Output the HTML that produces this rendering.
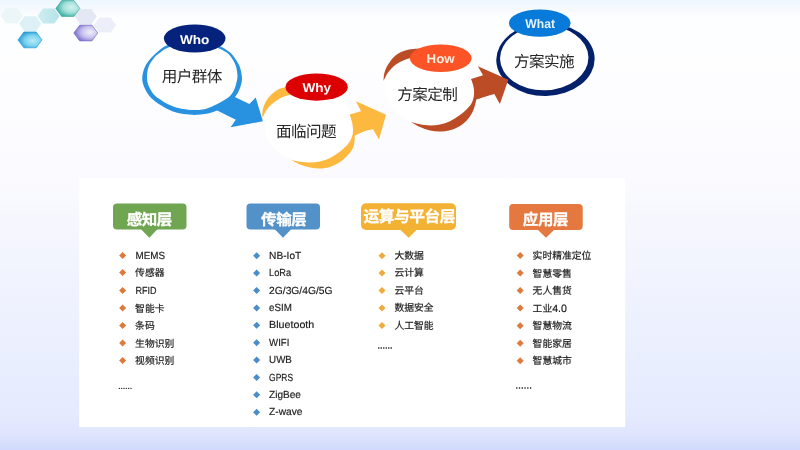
<!DOCTYPE html>
<html lang="zh-CN">
<head>
<meta charset="utf-8">
<title>Who Why How What</title>
<style>
html,body{margin:0;padding:0;width:800px;height:450px;overflow:hidden;background:#f4f6fe;}
svg{display:block;position:absolute;left:0;top:0;will-change:transform;}
text{font-family:"Liberation Sans","Noto Sans CJK SC",sans-serif;text-rendering:geometricPrecision;}
.tag{font-weight:bold;font-size:12.6px;fill:#fff;text-anchor:middle;}
.ctr{font-size:15.6px;fill:#262626;text-anchor:middle;font-weight:400;letter-spacing:-0.6px;}
.bh{font-weight:bold;font-size:15.5px;fill:#fff;text-anchor:middle;letter-spacing:-0.4px;stroke:#fff;stroke-width:0.3px;}
.li{font-size:9.8px;fill:#1c1c1c;stroke:#1c1c1c;stroke-width:0.18px;}
.li .en{font-size:10.3px;}
</style>
</head>
<body>
<svg width="800" height="450" viewBox="0 0 800 450">
<defs>
<linearGradient id="bg" x1="0" y1="0" x2="0" y2="1">
<stop offset="0" stop-color="#eef6fe"/>
<stop offset="0.04" stop-color="#fdfeff"/>
<stop offset="0.14" stop-color="#fefeff"/>
<stop offset="0.27" stop-color="#fcfcff"/>
<stop offset="0.38" stop-color="#fbfbff"/>
<stop offset="0.49" stop-color="#f6f7fe"/>
<stop offset="0.71" stop-color="#edf1fe"/>
<stop offset="0.92" stop-color="#e5eafe"/>
<stop offset="0.965" stop-color="#dfe5fd"/>
<stop offset="1" stop-color="#d0dafc"/>
</linearGradient>
<radialGradient id="hxTeal" cx="0.66" cy="0.42" r="0.62">
<stop offset="0" stop-color="#d4f2ef"/><stop offset="0.55" stop-color="#a4e0da"/><stop offset="1" stop-color="#45b3a8"/>
</radialGradient>
<radialGradient id="hxBlue" cx="0.62" cy="0.55" r="0.62">
<stop offset="0" stop-color="#b8eaf7"/><stop offset="0.55" stop-color="#7ad2ee"/><stop offset="1" stop-color="#2498d4"/>
</radialGradient>
<radialGradient id="hxPurple" cx="0.68" cy="0.45" r="0.66">
<stop offset="0" stop-color="#f0f0fc"/><stop offset="0.55" stop-color="#c4c0ee"/><stop offset="1" stop-color="#7a6fca"/>
</radialGradient>
<linearGradient id="hx3" x1="0" y1="0" x2="1" y2="0">
<stop offset="0" stop-color="#d0edf1"/><stop offset="1" stop-color="#b4e3e8"/>
</linearGradient>
<path id="hexS" d="M-11.1,0 L-5.6,-7.6 L5.6,-7.6 L11.1,0 L5.6,7.6 L-5.6,7.6 Z"/>
<path id="hex" d="M-12,0 L-6.1,-7.9 L6.1,-7.9 L12,0 L6.1,7.9 L-6.1,7.9 Z"/>
</defs>
<rect x="0" y="0" width="800" height="450" fill="url(#bg)"/>

<!-- hexagons -->
<g id="hexes">
<use href="#hexS" x="11.75" y="15.7" fill="#ecf5f8"/>
<use href="#hexS" x="30.25" y="23.8" fill="#dcf0f5"/>
<use href="#hexS" x="48.6" y="16" fill="url(#hx3)"/>
<use href="#hexS" x="85.75" y="16.5" fill="#e4e7f4"/>
<use href="#hexS" x="105" y="25" fill="#eceffa"/>
<use href="#hex" x="67.8" y="8.5" fill="url(#hxTeal)" stroke="#3ea79c" stroke-width="0.7"/>
<use href="#hex" x="30" y="39.9" fill="url(#hxBlue)" stroke="#2a9ed4" stroke-width="0.7"/>
<use href="#hex" x="85.8" y="33" fill="url(#hxPurple)" stroke="#7d73cb" stroke-width="0.7"/>
</g>

<!-- WHO -->
<g id="who">
<path d="M166.40,45.50 C162.98,47.02 161.02,48.95 158.50,51.00 C155.98,53.05 153.55,55.18 151.30,57.80 C149.05,60.42 146.50,63.50 145.00,66.70 C143.50,69.90 142.53,73.87 142.30,77.00 C142.07,80.13 142.48,82.42 143.60,85.50 C144.72,88.58 146.60,92.48 149.00,95.50 C151.40,98.52 154.83,101.32 158.00,103.60 C161.17,105.88 164.67,107.63 168.00,109.20 C171.33,110.77 174.50,112.10 178.00,113.00 C181.50,113.90 185.67,114.30 189.00,114.60 C192.33,114.90 194.83,114.98 198.00,114.80 C201.17,114.62 204.83,114.23 208.00,113.50 C211.17,112.77 214.00,111.73 217.00,110.40 C220.00,109.07 223.33,107.32 226.00,105.50 C228.67,103.68 230.92,101.83 233.00,99.50 C235.08,97.17 237.05,94.42 238.50,91.50 C239.95,88.58 241.20,84.92 241.70,82.00 C242.20,79.08 241.95,76.83 241.50,74.00 C241.05,71.17 240.50,68.17 239.00,65.00 C237.50,61.83 234.58,57.50 232.50,55.00 C230.42,52.50 228.50,51.42 226.50,50.00 C224.50,48.58 223.75,47.83 220.50,46.50 C217.25,45.17 211.58,42.98 207.00,42.00 C202.42,41.02 197.67,40.62 193.00,40.60 C188.33,40.58 183.43,41.08 179.00,41.90 C174.57,42.72 169.82,43.98 166.40,45.50 Z" fill="#2892e0"/>
<path d="M167.80,47.80 C164.55,49.13 162.77,50.63 160.50,52.30 C158.23,53.97 156.18,55.40 154.20,57.80 C152.22,60.20 149.80,63.50 148.60,66.70 C147.40,69.90 147.02,73.87 147.00,77.00 C146.98,80.13 147.33,82.53 148.50,85.50 C149.67,88.47 151.92,92.38 154.00,94.80 C156.08,97.22 158.67,98.43 161.00,100.00 C163.33,101.57 165.17,102.85 168.00,104.20 C170.83,105.55 174.67,107.18 178.00,108.10 C181.33,109.02 184.83,109.38 188.00,109.70 C191.17,110.02 193.83,110.22 197.00,110.00 C200.17,109.78 203.72,109.37 207.00,108.40 C210.28,107.43 213.87,105.57 216.70,104.20 C219.53,102.83 221.78,101.57 224.00,100.20 C226.22,98.83 228.28,97.78 230.00,96.00 C231.72,94.22 233.17,92.00 234.30,89.50 C235.43,87.00 236.28,83.42 236.80,81.00 C237.32,78.58 237.62,77.67 237.40,75.00 C237.18,72.33 236.82,68.33 235.50,65.00 C234.18,61.67 231.42,57.33 229.50,55.00 C227.58,52.67 225.75,52.08 224.00,51.00 C222.25,49.92 222.00,49.62 219.00,48.50 C216.00,47.38 210.33,45.17 206.00,44.30 C201.67,43.43 197.33,43.30 193.00,43.30 C188.67,43.30 184.20,43.55 180.00,44.30 C175.80,45.05 171.05,46.47 167.80,47.80 Z" fill="#ffffff"/>
<polygon points="233.6,95.6 235.3,97.2 249.4,103.9 255.7,97.6 262.9,121.3 230.6,127.2 235.8,119.8 216.7,110.2 214.5,108.5" fill="#2892e0"/>
<ellipse cx="194.7" cy="38.5" rx="30.8" ry="14.1" fill="#05237c"/>
<text class="tag" x="194.7" y="43.9" textLength="29.4" lengthAdjust="spacingAndGlyphs">Who</text>
<text class="ctr" x="191.85" y="81.8">用户群体</text>
</g>

<!-- WHY -->
<g id="why">
<ellipse cx="309" cy="125" rx="44.5" ry="37.5" fill="#ffffff"/>
<path d="M262.20,117.60 C262.28,116.32 262.23,112.28 262.70,109.90 C263.17,107.52 263.92,105.48 265.00,103.30 C266.08,101.12 267.57,98.73 269.20,96.80 C270.83,94.87 272.93,93.07 274.80,91.70 C276.67,90.33 278.53,89.38 280.40,88.60 C282.27,87.82 284.07,87.43 286.00,87.00 C287.93,86.57 291.00,86.17 292.00,86.00 L296.00,94.00 C294.95,94.15 291.53,94.52 289.70,94.90 C287.87,95.28 286.70,95.67 285.00,96.30 C283.30,96.93 281.35,97.68 279.50,98.70 C277.65,99.72 275.62,101.08 273.90,102.40 C272.18,103.72 270.60,105.05 269.20,106.60 C267.80,108.15 266.52,110.05 265.50,111.70 C264.48,113.35 263.65,115.52 263.10,116.50 C262.55,117.48 262.35,117.42 262.20,117.60 Z" fill="#fdb840"/>
<path d="M291.00,159.80 C292.50,160.58 296.83,163.22 300.00,164.50 C303.17,165.78 306.67,166.83 310.00,167.50 C313.33,168.17 316.67,168.58 320.00,168.50 C323.33,168.42 326.67,168.08 330.00,167.00 C333.33,165.92 337.00,164.00 340.00,162.00 C343.00,160.00 345.88,157.25 348.00,155.00 C350.12,152.75 351.62,150.67 352.70,148.50 C353.78,146.33 354.17,144.08 354.50,142.00 C354.83,139.92 354.67,137.00 354.70,136.00 C355.03,135.78 355.03,135.48 356.70,134.70 C358.37,133.92 361.98,132.20 364.70,131.30 C367.42,130.40 371.62,129.63 373.00,129.30 L379.00,139.40 L386.00,114.70 L356.00,101.30 L361.00,111.30 L349.70,114.40 C350.08,115.67 351.45,119.40 352.00,122.00 C352.55,124.60 353.00,127.55 353.00,130.00 C353.00,132.45 352.83,134.37 352.00,136.70 C351.17,139.03 350.00,141.53 348.00,144.00 C346.00,146.47 343.00,149.17 340.00,151.50 C337.00,153.83 333.33,156.33 330.00,158.00 C326.67,159.67 323.33,160.75 320.00,161.50 C316.67,162.25 313.33,162.45 310.00,162.50 C306.67,162.55 303.17,162.25 300.00,161.80 C296.83,161.35 292.50,160.13 291.00,159.80 Z" fill="#fdb840"/>
<ellipse cx="316.65" cy="87.05" rx="31.2" ry="13.6" fill="#dc0002"/>
<text class="tag" x="316.7" y="91.9" textLength="28.6" lengthAdjust="spacingAndGlyphs">Why</text>
<text class="ctr" x="306.1" y="137.2">面临问题</text>
</g>

<!-- WHAT ring (under HOW arrow tip) -->
<g id="what-ring">
<g transform="rotate(-1.2 545 59)"><ellipse cx="545.45" cy="59.45" rx="49.2" ry="36.6" fill="#03206a"/>
<ellipse cx="544.25" cy="57.95" rx="44.2" ry="32.3" fill="#ffffff"/></g>
</g>

<!-- HOW -->
<g id="how">
<ellipse cx="430" cy="88" rx="44.5" ry="37.5" fill="#ffffff"/>
<path d="M383.50,80.90 C383.62,79.72 383.70,76.07 384.20,73.80 C384.70,71.53 385.48,69.40 386.50,67.30 C387.52,65.20 388.90,63.07 390.30,61.20 C391.70,59.33 393.20,57.58 394.90,56.10 C396.60,54.62 398.48,53.32 400.50,52.30 C402.52,51.28 404.82,50.53 407.00,50.00 C409.18,49.47 411.43,49.33 413.60,49.10 C415.77,48.87 418.93,48.68 420.00,48.60 L420.00,57.00 C418.47,57.15 412.97,57.58 410.80,57.90 C408.63,58.22 408.55,58.35 407.00,58.90 C405.45,59.45 403.35,60.27 401.50,61.20 C399.65,62.13 397.62,63.25 395.90,64.50 C394.18,65.75 392.60,67.23 391.20,68.70 C389.80,70.17 388.58,71.65 387.50,73.30 C386.42,74.95 385.37,77.33 384.70,78.60 C384.03,79.87 383.70,80.52 383.50,80.90 Z" fill="#bb4c26"/>
<path d="M411.00,122.00 C412.50,122.83 416.83,125.58 420.00,127.00 C423.17,128.42 426.67,129.75 430.00,130.50 C433.33,131.25 436.67,131.55 440.00,131.50 C443.33,131.45 446.67,131.12 450.00,130.20 C453.33,129.28 457.00,127.87 460.00,126.00 C463.00,124.13 465.83,121.50 468.00,119.00 C470.17,116.50 471.78,113.50 473.00,111.00 C474.22,108.50 474.75,105.88 475.30,104.00 C475.85,102.12 476.13,100.42 476.30,99.70 C477.87,99.18 482.70,97.55 485.70,96.60 C488.70,95.65 492.87,94.43 494.30,94.00 L499.90,104.00 L508.30,79.70 L477.90,66.30 L483.00,75.30 L471.00,79.00 C471.40,80.22 472.90,83.63 473.40,86.30 C473.90,88.97 474.28,92.22 474.00,95.00 C473.72,97.78 472.87,100.67 471.70,103.00 C470.53,105.33 468.95,107.00 467.00,109.00 C465.05,111.00 462.83,112.97 460.00,115.00 C457.17,117.03 453.33,119.62 450.00,121.20 C446.67,122.78 443.33,123.78 440.00,124.50 C436.67,125.22 433.33,125.53 430.00,125.50 C426.67,125.47 423.17,124.88 420.00,124.30 C416.83,123.72 412.50,122.38 411.00,122.00 Z" fill="#bb4c26"/>
<ellipse cx="440.75" cy="58.3" rx="30.85" ry="13.75" fill="#fc5426"/>
<text class="tag" x="440.6" y="62.9" style="fill:#fdeee0" textLength="28" lengthAdjust="spacingAndGlyphs">How</text>
<text class="ctr" x="427.2" y="100.2">方案定制</text>
</g>

<!-- WHAT -->
<g id="what">
<ellipse cx="539.75" cy="23.1" rx="30.85" ry="13.7" fill="#087ada"/>
<text class="tag" x="540.15" y="28" style="fill:#e6f3fd" textLength="29.7" lengthAdjust="spacingAndGlyphs">What</text>
<text class="ctr" x="544.0" y="67.0">方案实施</text>
</g>

<!-- PANEL -->
<rect x="79.2" y="178.3" width="546" height="248.8" fill="#ffffff"/>

<!-- badges -->
<g id="b1" fill="#70a652">
<rect x="113" y="203.5" width="73.5" height="25.9" rx="4" ry="4"/>
<polygon points="140.8,229 157.7,229 149.3,237.8"/>
</g>
<text class="bh" x="149.3" y="224.8">感知层</text>

<g id="b2" fill="#5292c8">
<rect x="246.5" y="203.4" width="73.5" height="26" rx="4" ry="4"/>
<polygon points="274.5,229 291.5,229 283,237.7"/>
</g>
<text class="bh" x="283.7" y="224.8">传输层</text>

<g id="b3" fill="#f3b234">
<rect x="361" y="203.3" width="95" height="26.7" rx="5" ry="5"/>
<polygon points="400,229.5 417,229.5 408.6,237.7"/>
</g>
<text class="bh" x="409.3" y="222.2" style="font-size:15.7px">运算与平台层</text>

<g id="b4" fill="#e4783e">
<rect x="509.2" y="203.9" width="73.5" height="26.1" rx="4" ry="4"/>
<polygon points="537.5,229.5 554.5,229.5 546,237.7"/>
</g>
<text class="bh" x="545.5" y="225">应用层</text>

<!-- list 1 -->
<g fill="#de7a3e">
<path d="M122.6,252.0 l3.5,3.5 -3.5,3.5 -3.5,-3.5 z"/>
<path d="M122.6,269.1 l3.5,3.5 -3.5,3.5 -3.5,-3.5 z"/>
<path d="M122.6,286.9 l3.5,3.5 -3.5,3.5 -3.5,-3.5 z"/>
<path d="M122.6,304.4 l3.5,3.5 -3.5,3.5 -3.5,-3.5 z"/>
<path d="M122.6,321.9 l3.5,3.5 -3.5,3.5 -3.5,-3.5 z"/>
<path d="M122.6,339.4 l3.5,3.5 -3.5,3.5 -3.5,-3.5 z"/>
<path d="M122.6,356.9 l3.5,3.5 -3.5,3.5 -3.5,-3.5 z"/>
</g>

<g class="li">
<text x="135.1" y="258.6" class="en" textLength="29.5" lengthAdjust="spacingAndGlyphs" dx="0.4">MEMS</text>
<text x="135.1" y="276.4">传感器</text>
<text x="135.1" y="293.6" class="en" textLength="21.0" lengthAdjust="spacingAndGlyphs" dx="0.4">RFID</text>
<text x="135.1" y="311.7">智能卡</text>
<text x="135.1" y="329.2">条码</text>
<text x="135.1" y="346.8">生物识别</text>
<text x="135.1" y="364.2">视频识别</text>
</g>

<g fill="#2a2a2a"><circle cx="119.40" cy="388.40" r="0.70"/><circle cx="121.72" cy="388.40" r="0.70"/><circle cx="124.04" cy="388.40" r="0.70"/><circle cx="126.36" cy="388.40" r="0.70"/><circle cx="128.68" cy="388.40" r="0.70"/><circle cx="131.00" cy="388.40" r="0.70"/></g>


<!-- list 2 -->
<g fill="#4a8dc8">
<path d="M256.6,252.2 l3.5,3.5 -3.5,3.5 -3.5,-3.5 z"/>
<path d="M256.6,269.6 l3.5,3.5 -3.5,3.5 -3.5,-3.5 z"/>
<path d="M256.6,286.9 l3.5,3.5 -3.5,3.5 -3.5,-3.5 z"/>
<path d="M256.6,304.4 l3.5,3.5 -3.5,3.5 -3.5,-3.5 z"/>
<path d="M256.6,321.8 l3.5,3.5 -3.5,3.5 -3.5,-3.5 z"/>
<path d="M256.6,339.2 l3.5,3.5 -3.5,3.5 -3.5,-3.5 z"/>
<path d="M256.6,356.6 l3.5,3.5 -3.5,3.5 -3.5,-3.5 z"/>
<path d="M256.6,373.9 l3.5,3.5 -3.5,3.5 -3.5,-3.5 z"/>
<path d="M256.6,391.3 l3.5,3.5 -3.5,3.5 -3.5,-3.5 z"/>
<path d="M256.6,408.8 l3.5,3.5 -3.5,3.5 -3.5,-3.5 z"/>
</g>

<g class="li">
<text x="269.1" y="258.8" class="en" textLength="32.2" lengthAdjust="spacingAndGlyphs">NB-IoT</text>
<text x="269.1" y="276.2" class="en" textLength="22.0" lengthAdjust="spacingAndGlyphs">LoRa</text>
<text x="269.1" y="293.6" class="en" textLength="63.4" lengthAdjust="spacingAndGlyphs">2G/3G/4G/5G</text>
<text x="269.1" y="311.0" class="en" textLength="22.8" lengthAdjust="spacingAndGlyphs">eSIM</text>
<text x="269.1" y="328.4" class="en" textLength="45.2" lengthAdjust="spacingAndGlyphs">Bluetooth</text>
<text x="269.1" y="345.8" class="en" textLength="20.2" lengthAdjust="spacingAndGlyphs">WIFI</text>
<text x="269.1" y="363.2" class="en" textLength="22.8" lengthAdjust="spacingAndGlyphs">UWB</text>
<text x="269.1" y="380.6" class="en" textLength="24.0" lengthAdjust="spacingAndGlyphs">GPRS</text>
<text x="269.1" y="398.0" class="en" textLength="31.8" lengthAdjust="spacingAndGlyphs">ZigBee</text>
<text x="269.1" y="415.4" class="en" textLength="33.4" lengthAdjust="spacingAndGlyphs">Z-wave</text>
</g>


<!-- list 3 -->
<g fill="#eeaa3a">
<path d="M382.0,252.2 l3.5,3.5 -3.5,3.5 -3.5,-3.5 z"/>
<path d="M382.0,269.6 l3.5,3.5 -3.5,3.5 -3.5,-3.5 z"/>
<path d="M382.0,286.9 l3.5,3.5 -3.5,3.5 -3.5,-3.5 z"/>
<path d="M382.0,304.4 l3.5,3.5 -3.5,3.5 -3.5,-3.5 z"/>
<path d="M382.0,321.9 l3.5,3.5 -3.5,3.5 -3.5,-3.5 z"/>
</g>

<g class="li">
<text x="394.4" y="258.8">大数据</text>
<text x="394.4" y="276.2">云计算</text>
<text x="394.4" y="293.6">云平台</text>
<text x="394.4" y="311.1">数据安全</text>
<text x="394.4" y="328.6">人工智能</text>
</g>

<g fill="#505050"><rect x="378.10" y="347.05" width="1.3" height="1.9"/><rect x="380.60" y="347.05" width="1.3" height="1.9"/><rect x="383.10" y="347.05" width="1.3" height="1.9"/><rect x="385.60" y="347.05" width="1.3" height="1.9"/><rect x="388.10" y="347.05" width="1.3" height="1.9"/><rect x="390.60" y="347.05" width="1.3" height="1.9"/></g>


<!-- list 4 -->
<g fill="#de7a3e">
<path d="M520.2,252.0 l3.5,3.5 -3.5,3.5 -3.5,-3.5 z"/>
<path d="M520.2,269.5 l3.5,3.5 -3.5,3.5 -3.5,-3.5 z"/>
<path d="M520.2,287.1 l3.5,3.5 -3.5,3.5 -3.5,-3.5 z"/>
<path d="M520.2,304.6 l3.5,3.5 -3.5,3.5 -3.5,-3.5 z"/>
<path d="M520.2,322.2 l3.5,3.5 -3.5,3.5 -3.5,-3.5 z"/>
<path d="M520.2,339.7 l3.5,3.5 -3.5,3.5 -3.5,-3.5 z"/>
<path d="M520.2,357.3 l3.5,3.5 -3.5,3.5 -3.5,-3.5 z"/>
</g>

<g class="li">
<text x="532.6" y="259.0">实时精准定位</text>
<text x="532.6" y="276.5">智慧零售</text>
<text x="532.6" y="294.1">无人售货</text>
<text x="532.6" y="311.6">工业<tspan font-size="10.6">4.0</tspan></text>
<text x="532.6" y="329.2">智慧物流</text>
<text x="532.6" y="346.7">智能家居</text>
<text x="532.6" y="364.3">智慧城市</text>
</g>

<g fill="#505050"><rect x="516.10" y="387.05" width="1.3" height="1.9"/><rect x="518.87" y="387.05" width="1.3" height="1.9"/><rect x="521.64" y="387.05" width="1.3" height="1.9"/><rect x="524.41" y="387.05" width="1.3" height="1.9"/><rect x="527.18" y="387.05" width="1.3" height="1.9"/><rect x="529.95" y="387.05" width="1.3" height="1.9"/></g>

</svg>
</body>
</html>
